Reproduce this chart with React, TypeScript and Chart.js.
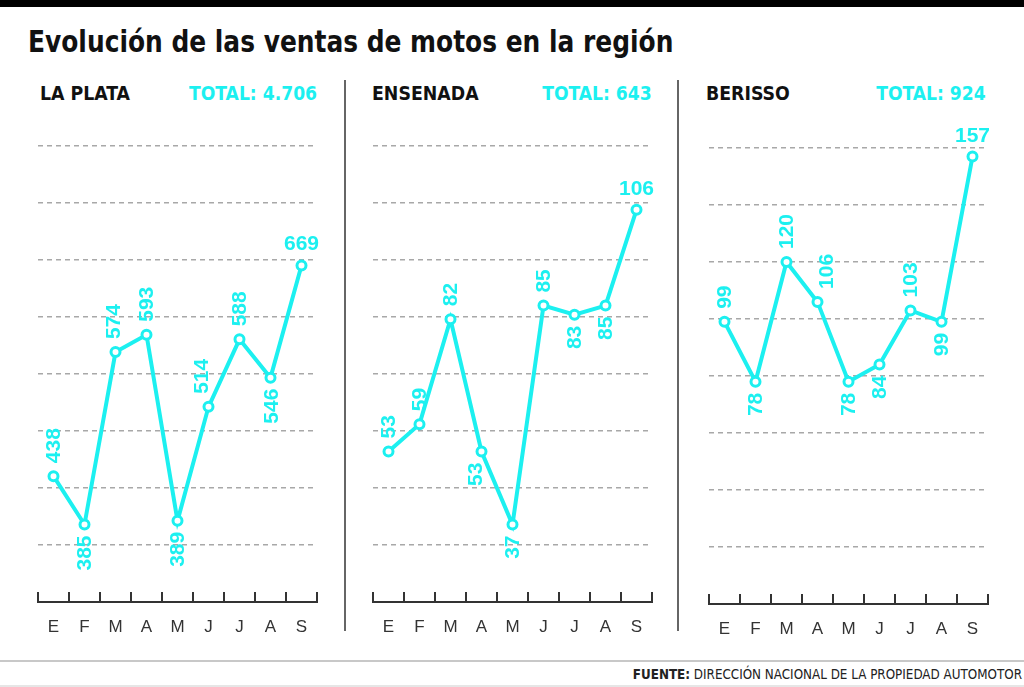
import React, { useEffect, useRef } from 'react';
import { Chart, registerables } from 'chart.js';

Chart.register(...registerables);

// ---------- data ----------
const MONTHS = ['E', 'F', 'M', 'A', 'M', 'J', 'J', 'A', 'S'];
const LA_PLATA = [438, 385, 574, 593, 389, 514, 588, 546, 669];
const ENSENADA = [53, 59, 82, 53, 37, 85, 83, 85, 106];
const BERISSO = [99, 78, 120, 106, 78, 84, 103, 99, 157];
const PANEL_NAMES = ['LA PLATA', 'ENSENADA', 'BERISSO'];
const TOTALS = ['TOTAL: 4.706', 'TOTAL: 643', 'TOTAL: 924'];
const Y_MIN = [300, 20, 0];
const Y_MAX = [800, 120, 160];
const Y_STEP = [62.5, 12.5, 20];

// label placement: u = vertical above, d = vertical below, h = horizontal above
const PLACE_LA_PLATA = ['u', 'd', 'u', 'u', 'd', 'u', 'u', 'd', 'h'];
const PLACE_ENSENADA = ['u', 'u', 'u', 'd', 'd', 'u', 'd', 'd', 'h'];
const PLACE_BERISSO = ['u', 'd', 'u', 'u', 'd', 'd', 'u', 'd', 'h'];
const SHIFT_LA_PLATA = [0, 0, -2, 0, 0, -7, 0, 1, 0];
const SHIFT_ENSENADA = [0, 0, 0, -6, 0, 0, 0, 0, 0];
const SHIFT_BERISSO = [0, 0, 0, 9, 0, 0, 0, 0, 0];

const CYAN = '#1cf0f0';
const NARROW = "'Liberation Sans Narrow', 'DejaVu Sans Condensed', 'Liberation Sans', Arial, sans-serif";
const SANS = "'Liberation Sans', Arial, sans-serif";

const bracketPlugin = {
  id: 'bracket',
  afterDraw(chart: any) {
    const xs = chart.scales.x;
    const ctx = chart.ctx;
    const n = xs.ticks.length;
    const step = xs.getPixelForTick(1) - xs.getPixelForTick(0);
    const bottom = chart.chartArea.bottom;
    ctx.save();
    ctx.strokeStyle = '#333';
    ctx.lineWidth = 2;
    for (let i = 0; i <= n; i++) {
      const x = Math.round(xs.getPixelForTick(0) - step / 2 + i * step);
      ctx.beginPath();
      ctx.moveTo(x, bottom + 1);
      ctx.lineTo(x, bottom - 10);
      ctx.stroke();
    }
    ctx.restore();
  },
};

function makeLabelPlugin(place: string[], shift: number[]) {
  return {
    id: 'valueLabels',
    afterDatasetsDraw(chart: any) {
      const ctx = chart.ctx;
      const meta = chart.getDatasetMeta(0);
      const values = chart.data.datasets[0].data;
      ctx.save();
      ctx.fillStyle = CYAN;
      ctx.font = `bold 21px ${SANS}`;
      meta.data.forEach((pt: any, i: number) => {
        const text = String(values[i]);
        const p = place[i];
        const x = pt.x + shift[i];
        if (p === 'h') {
          ctx.textAlign = 'center';
          ctx.textBaseline = 'alphabetic';
          ctx.fillText(text, x, pt.y - 15);
        } else {
          ctx.save();
          ctx.translate(x, p === 'u' ? pt.y - 13 : pt.y + 11);
          ctx.rotate(-Math.PI / 2);
          ctx.textAlign = p === 'u' ? 'left' : 'right';
          ctx.textBaseline = 'middle';
          ctx.fillText(text, 0, 1);
          ctx.restore();
        }
      });
      ctx.restore();
    },
  };
}

const CANVAS_W = 320;
const CANVAS_H = 540;

function Panel(props: { idx: number; data: number[]; place: string[]; shift: number[]; left: number; top: number }) {
  const ref = useRef<HTMLCanvasElement>(null);
  useEffect(() => {
    const { idx, data, place, shift } = props;
    const min = Y_MIN[idx];
    const chart = new Chart(ref.current as HTMLCanvasElement, {
      type: 'line',
      data: {
        labels: MONTHS,
        datasets: [
          {
            data,
            borderColor: CYAN,
            borderWidth: 4,
            pointRadius: 4.5,
            pointBorderWidth: 3,
            pointBackgroundColor: '#ffffff',
            pointBorderColor: CYAN,
            tension: 0,
            clip: false as any,
          },
        ],
      },
      options: {
        animation: false,
        responsive: false,
        maintainAspectRatio: false,
        layout: { padding: { left: 18, right: 23, top: 36, bottom: 8 } },
        plugins: { legend: { display: false }, tooltip: { enabled: false } },
        scales: {
          x: {
            type: 'category',
            offset: true,
            grid: { display: false },
            border: { display: true, color: '#333', width: 2 },
            ticks: { color: '#333', font: { family: SANS, size: 17 }, padding: 7, maxRotation: 0, autoSkip: false },
            afterFit: (s: any) => {
              s.height = 40;
            },
          },
          y: {
            type: 'linear',
            min,
            max: Y_MAX[idx],
            ticks: { stepSize: Y_STEP[idx], display: false },
            grid: {
              color: (c: any) => (c.tick && Math.abs(c.tick.value - min) < 1e-6 ? 'rgba(0,0,0,0)' : '#a8a8a8'),
              lineWidth: 1.5,
              drawTicks: false,
            },
            border: { display: false, dash: [5, 4] },
            afterFit: (s: any) => {
              s.width = 0;
            },
          },
        },
      } as any,
      plugins: [bracketPlugin, makeLabelPlugin(place, shift)],
    });
    return () => chart.destroy();
  }, []);
  return (
    <canvas
      ref={ref}
      width={CANVAS_W}
      height={CANVAS_H}
      style={{ position: 'absolute', left: props.left, top: props.top, width: CANVAS_W, height: CANVAS_H }}
    />
  );
}

function Txt(props: {
  x: number;
  baseline: number;
  size: number;
  color: string;
  bold?: boolean;
  right?: boolean;
  sx?: number;
  family?: string;
  children: any;
}) {
  const top = props.baseline - 0.8465 * props.size;
  const style: any = {
    position: 'absolute',
    top,
    fontSize: props.size,
    lineHeight: 1,
    fontFamily: props.family || NARROW,
    fontWeight: props.bold ? 'bold' : 'normal',
    color: props.color,
    whiteSpace: 'nowrap',
    transform: `scaleX(${props.sx || 1})`,
    transformOrigin: props.right ? 'right center' : 'left center',
  };
  if (props.right) style.right = 1024 - props.x;
  else style.left = props.x;
  return <div style={style}>{props.children}</div>;
}

export default function App() {
  const panelLefts = [20, 355, 691];
  const panelTops = [110, 110, 112];
  const nameX = [40, 372, 706];
  const totalRight = [317, 652, 986];
  const series = [LA_PLATA, ENSENADA, BERISSO];
  const places = [PLACE_LA_PLATA, PLACE_ENSENADA, PLACE_BERISSO];
  const shifts = [SHIFT_LA_PLATA, SHIFT_ENSENADA, SHIFT_BERISSO];
  return (
    <div style={{ position: 'absolute', left: 0, top: 0, width: 1024, height: 687, background: '#fff', overflow: 'hidden' }}>
      <div style={{ position: 'absolute', left: 0, top: 0, width: 1024, height: 7, background: '#000' }} />
      <Txt x={28} baseline={52} size={31} color="#111" bold sx={0.893}>
        Evolución de las ventas de motos en la región
      </Txt>
      {PANEL_NAMES.map((n, i) => (
        <Txt key={'n' + i} x={nameX[i]} baseline={100} size={20} color="#111" bold sx={0.965}>
          {n}
        </Txt>
      ))}
      {TOTALS.map((t, i) => (
        <Txt key={'t' + i} x={totalRight[i]} baseline={100} size={20} color={CYAN} bold right sx={0.955}>
          {t}
        </Txt>
      ))}
      <div style={{ position: 'absolute', left: 344, top: 80, width: 2, height: 551, background: '#666' }} />
      <div style={{ position: 'absolute', left: 677, top: 80, width: 2, height: 551, background: '#666' }} />
      {series.map((d, i) => (
        <Panel key={i} idx={i} data={d} place={places[i]} shift={shifts[i]} left={panelLefts[i]} top={panelTops[i]} />
      ))}
      <div style={{ position: 'absolute', left: 0, top: 660, width: 1024, height: 2, background: '#c8c8c8' }} />
      <div style={{ position: 'absolute', left: 0, top: 685, width: 1024, height: 2, background: '#e6e6e6' }} />
      <Txt x={1022} baseline={679} size={13.3} color="#222" right>
        <b>FUENTE:</b> DIRECCIÓN NACIONAL DE LA PROPIEDAD AUTOMOTOR
      </Txt>
    </div>
  );
}
